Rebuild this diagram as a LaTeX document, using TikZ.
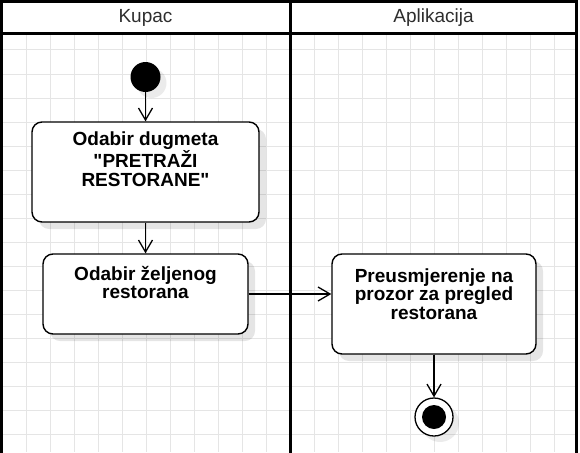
\documentclass[tikz,border=0pt]{standalone}
\usepackage{fontspec}
\setmainfont{Liberation Sans}[Ligatures=TeXOff]
\usetikzlibrary{arrows.meta,shadows}
\begin{document}
\begin{tikzpicture}[x=1pt,y=-1pt,
  gridline/.style={draw=black!10, line width=1pt},
  lane/.style={draw=black, line width=3pt},
  act/.style={draw=black, line width=1.4pt, rounded corners=10pt, fill=white,
    drop shadow={shadow xshift=7pt, shadow yshift=-7pt, fill=black, opacity=0.1}},
  acttext/.style={anchor=base, align=center, inner sep=0pt,
    font=\fontsize{19}{18.5}\selectfont\bfseries},
  lanetitle/.style={anchor=base, inner sep=0pt, text=black!82,
    font=\fontsize{19}{22}\selectfont},
  flow/.style={draw=black, line width=1.3pt, -{Straight Barb[length=12pt,width=14pt]}},
  initial/.style={circle, fill=black, minimum size=30pt, inner sep=0pt,
    drop shadow={shadow xshift=6pt, shadow yshift=-6pt, fill=black, opacity=0.08}},
  finalring/.style={circle, draw=black, line width=1.3pt, fill=white, minimum size=38pt, inner sep=0pt,
    drop shadow={shadow xshift=6pt, shadow yshift=-6pt, fill=black, opacity=0.08}},
  finaldot/.style={circle, fill=black, minimum size=24pt, inner sep=0pt}
]
\useasboundingbox (0,0) rectangle (580,452);
\fill[white] (0,0) rectangle (580,452);
% grid
\begin{scope}
  \clip (1.5,1.5) rectangle (576.5,452);
  \foreach \i in {0,...,24} \draw[gridline] (2+24*\i,0) -- (2+24*\i,452);
  \foreach \j in {0,...,18} \draw[gridline] (0,2+24*\j) -- (580,2+24*\j);
\end{scope}
% header
\fill[white] (1.5,1.5) rectangle (576.5,33.5);
\node[lanetitle] (h1) at (145.5,23) {Kupac};
\node[lanetitle] (h2) at (433.5,23) {Aplikacija};
% lane frame
\draw[lane] (1.5,460) -- (1.5,1.5) -- (576.5,1.5) -- (576.5,460);
\draw[lane] (1.5,33.5) -- (576.5,33.5);
\draw[lane] (290,1.5) -- (290,460);
% nodes
\node[initial] (start) at (145.5,77) {};
\node[act, minimum width=227pt, minimum height=100pt] (b1) at (145.5,172) {};
\node[acttext] (b1t) at (145.5,186) {Odabir dugmeta\\"PRETRAŽI\\RESTORANE"};
\node[act, minimum width=205pt, minimum height=80pt] (b2) at (145.5,294) {};
\node[acttext] (b2t) at (145.5,298.5) {Odabir željenog\\restorana};
\node[act, minimum width=204pt, minimum height=100pt] (b3) at (434,304) {};
\node[acttext] (b3t) at (434,319) {Preusmjerenje na\\prozor za pregled\\restorana};
\node[finalring] (end) at (434,417) {};
\node[finaldot] (endin) at (end.center) {};
% flows
\draw[flow] (start) -- (b1);
\draw[flow] (b1) -- (b2);
\draw[flow] (b2.east) -- (b2.east -| b3.west);
\draw[flow] (b3) -- (end);
\end{tikzpicture}
\end{document}
